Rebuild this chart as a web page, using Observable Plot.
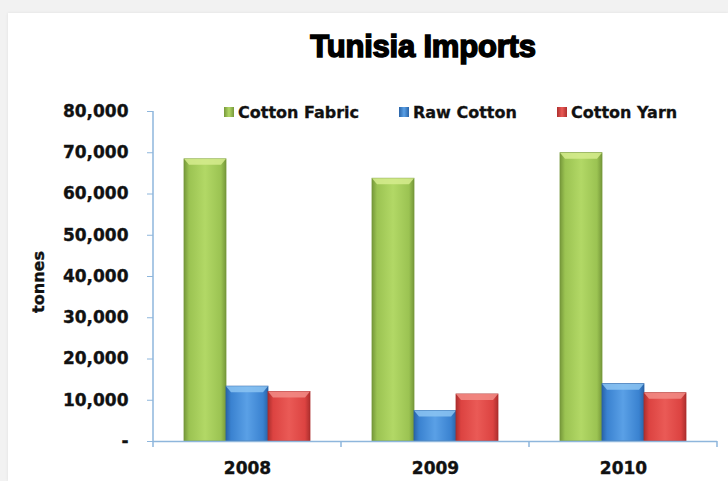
<!DOCTYPE html>
<html>
<head>
<meta charset="utf-8">
<script src="https://cdn.jsdelivr.net/npm/d3@7"></script>
<script src="https://cdn.jsdelivr.net/npm/@observablehq/plot@0.6"></script>
<style>
  html, body { margin: 0; padding: 0; background: #f2f2f2; }
  #wrap { position: relative; width: 728px; height: 481px; overflow: hidden; background: #f2f2f2; }
  #panel { position: absolute; left: 8px; top: 13px; right: 0; bottom: 0; background: #fff; box-shadow: 0 0 3px rgba(0,0,0,0.08); }
  #chart { position: absolute; left: 0; top: 0; }
  #title { position: absolute; left: 0; width: 846px; top: 29px; text-align: center; font-family: "Liberation Sans", Arial, sans-serif; font-weight: 900; font-size: 31px; color: #000; -webkit-text-stroke: 1.5px #000; letter-spacing: -0.2px; }
  .leg { position: absolute; top: 103px; font-family: "DejaVu Sans", sans-serif; font-weight: bold; font-size: 16px; color: #111; white-space: nowrap; -webkit-text-stroke: 0.3px #111; }
  .sw { display: inline-block; width: 10px; height: 10px; margin-right: 4px; vertical-align: 1px; }
  #chart svg text { stroke: #111; stroke-width: 0.35px; }
</style>
</head>
<body>
<div id="wrap">
  <div id="panel"></div>
  <div id="chart"></div>
  <div id="title">Tunisia Imports</div>
  <div id="legend"></div>
</div>
<script>
const years = ["2008", "2009", "2010"];
const seriesNames = ["Cotton Fabric", "Raw Cotton", "Cotton Yarn"];
const cottonFabric = [68400, 63700, 69900];
const rawCotton = [13300, 7400, 13900];
const cottonYarn = [12000, 11400, 11700];
const yTicks = [0, 10000, 20000, 30000, 40000, 50000, 60000, 70000, 80000];
const seriesColors = ["#9bc352", "#3a82d0", "#dc4341"];
const seriesEdge = ["#76983a", "#2a64a8", "#ad2f2e"];
const seriesLight = ["#b2d866", "#5aa0e6", "#ea5a56"];
const seriesCap = ["#d6ec8e", "#8cc4f2", "#f28c86"];

const valuesBySeries = [cottonFabric, rawCotton, cottonYarn];
const data = [];
years.forEach((yr, i) => {
  seriesNames.forEach((s, j) => {
    data.push({year: yr, series: s, value: valuesBySeries[j][i], idx: j});
  });
});

const axisColor = "#8eb6dc";

const barMarks = seriesNames.map((s, j) =>
  Plot.barY(data.filter(d => d.series === s), {
    fx: "year", x: "series", y: "value",
    fill: `url(#grad${j})`, stroke: seriesEdge[j], strokeWidth: 0.8
  })
);

const chart = Plot.plot({
  width: 728,
  height: 481,
  marginTop: 111,
  marginBottom: 40,
  marginLeft: 152,
  marginRight: 11,
  style: {background: "transparent", fontFamily: "DejaVu Sans, sans-serif", fontWeight: "bold", color: "#111"},
  fx: {domain: years, padding: 0, label: null},
  x: {domain: seriesNames, paddingInner: 0, paddingOuter: 0.72, axis: null},
  y: {domain: [0, 80000], label: null},
  marks: [
    ...barMarks,
    Plot.ruleY([0], {stroke: axisColor, strokeWidth: 1.5}),
    Plot.axisY(yTicks, {
      tickSize: 6, tickPadding: 19, stroke: axisColor, fontSize: 17, fontWeight: "bold", fill: "#111",
      tickFormat: d => d === 0 ? "-" : d3.format(",")(d),
      label: null
    }),
    Plot.axisFx({anchor: "bottom", tickSize: 0, tickPadding: 20, fontSize: 17, fontWeight: "bold", fill: "#111", label: null})
  ]
});

document.getElementById("chart").appendChild(chart);

// gradients
const svg = d3.select(chart);
const defs = svg.insert("defs", ":first-child");
seriesNames.forEach((s, j) => {
  const g = defs.append("linearGradient").attr("id", `grad${j}`).attr("x1", 0).attr("x2", 1).attr("y1", 0).attr("y2", 0);
  g.append("stop").attr("offset", "0%").attr("stop-color", seriesEdge[j]);
  g.append("stop").attr("offset", "12%").attr("stop-color", seriesColors[j]);
  g.append("stop").attr("offset", "50%").attr("stop-color", seriesLight[j]);
  g.append("stop").attr("offset", "88%").attr("stop-color", seriesColors[j]);
  g.append("stop").attr("offset", "100%").attr("stop-color", seriesEdge[j]);
});

// top bevel caps derived from rendered bars
svg.selectAll("g[aria-label='bar'] rect").each(function() {
  const r = d3.select(this);
  const p = this.parentNode;
  const fill = r.attr("fill") || d3.select(p).attr("fill");
  const j = +(fill.match(/grad(\d)/) || [0, 0])[1];
  const x = +r.attr("x"), y = +r.attr("y"), w = +r.attr("width");
  d3.select(p).append("path")
    .attr("d", `M${x},${y}L${x + w},${y}L${x + w - 5},${y + 6}L${x + 5},${y + 6}Z`)
    .attr("fill", seriesCap[j]).attr("stroke", "none").attr("opacity", 0.85);
});

// left axis line and category boundary ticks, from the library's scales
const yS = chart.scale("y");
const fxS = chart.scale("fx");
const y0 = yS.apply(0), yTop = yS.apply(80000);
const left = fxS.apply(years[0]);
const bw = fxS.bandwidth;
svg.append("line").attr("x1", left).attr("x2", left).attr("y1", yTop).attr("y2", y0)
  .attr("stroke", axisColor).attr("stroke-width", 1.5);
const bounds = [left, ...years.map(yr => fxS.apply(yr) + bw)];
bounds.forEach(bx => {
  svg.append("line").attr("x1", bx).attr("x2", bx).attr("y1", y0).attr("y2", y0 + 6)
    .attr("stroke", axisColor).attr("stroke-width", 1.5);
});
// y label
svg.append("text").attr("transform", `translate(${left - 115},${(y0 + yTop) / 2 + 6}) rotate(-90)`)
  .attr("text-anchor", "middle").attr("font-size", 16).attr("font-weight", "bold")
  .attr("fill", "#111").attr("dy", "0.35em").text("tonnes");

// legend
const legendX = [224, 399, 557];
const legend = d3.select("#legend");
seriesNames.forEach((s, j) => {
  const item = legend.append("div").attr("class", "leg").style("left", legendX[j] + "px");
  item.append("span").attr("class", "sw")
    .style("background", `linear-gradient(90deg, ${seriesEdge[j]}, ${seriesLight[j]}, ${seriesEdge[j]})`);
  item.append("span").text(s);
});
</script>
</body>
</html>
